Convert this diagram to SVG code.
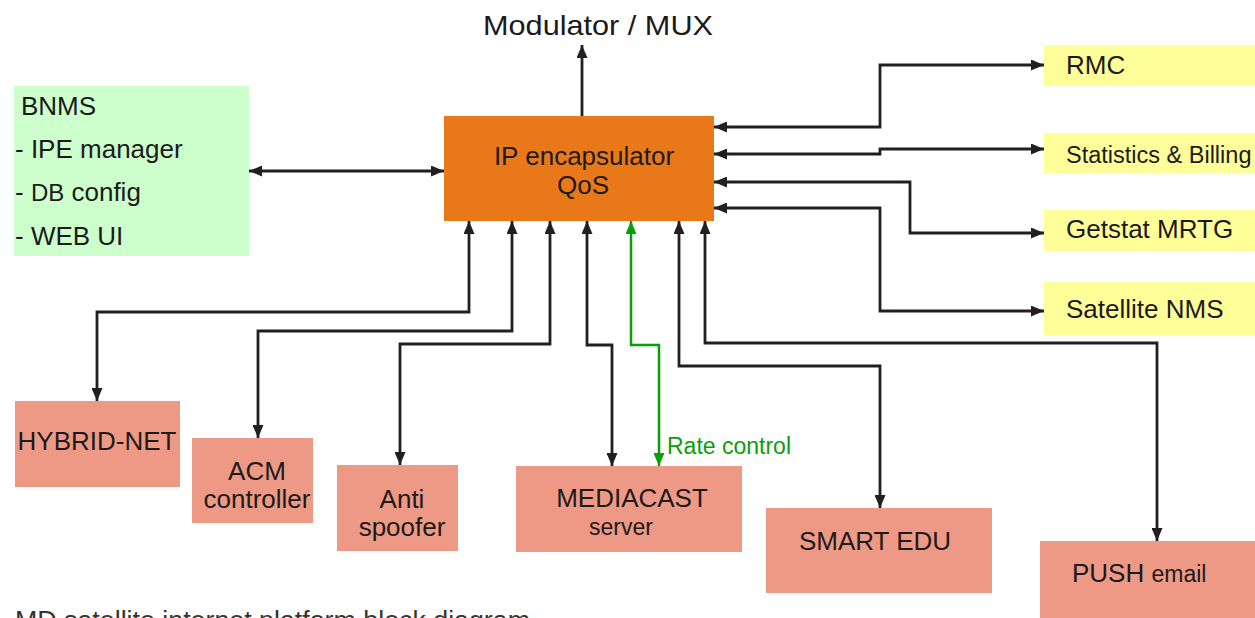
<svg xmlns="http://www.w3.org/2000/svg" width="1255" height="618" viewBox="0 0 1255 618">
<style>
text{font-family:"Liberation Sans",Arial,sans-serif;fill:#1c1a1a}
.t26{font-size:26px}
.mid{text-anchor:middle}
.green{fill:#CCFFCC}
.yellow{fill:#FFFF99}
.salmon{fill:#EE9985}
.orange{fill:#E87818}
.conn{fill:none;stroke:#231f20;stroke-width:2.8;stroke-linejoin:miter}
.rate{fill:none;stroke:#0a9e0a;stroke-width:2.5}
</style>
<defs>
<marker id="ah" viewBox="0 0 13 11" refX="13" refY="5.5" markerWidth="13" markerHeight="11" markerUnits="userSpaceOnUse" orient="auto-start-reverse">
<path d="M0,0 L13,5.5 L0,11 z" fill="#231f20"/>
</marker>
<marker id="ahg" viewBox="0 0 13 11" refX="13" refY="5.5" markerWidth="13" markerHeight="11" markerUnits="userSpaceOnUse" orient="auto-start-reverse">
<path d="M0,0 L13,5.5 L0,11 z" fill="#0a9e0a"/>
</marker>
</defs>
<rect width="1255" height="618" fill="#ffffff"/>

<g id="connectors">
<path class="conn" d="M582,116 V45" marker-end="url(#ah)"/>
<path class="conn" d="M249,171 H444" marker-start="url(#ah)" marker-end="url(#ah)"/>
<path class="conn" d="M714,127 H880 V65 H1044" marker-start="url(#ah)" marker-end="url(#ah)"/>
<path class="conn" d="M714,154 H880 V149 H1044" marker-start="url(#ah)" marker-end="url(#ah)"/>
<path class="conn" d="M714,182 H910 V233 H1044" marker-start="url(#ah)" marker-end="url(#ah)"/>
<path class="conn" d="M714,208 H880 V311 H1044" marker-start="url(#ah)" marker-end="url(#ah)"/>
<path class="conn" d="M469,221 V312 H97 V401" marker-start="url(#ah)" marker-end="url(#ah)"/>
<path class="conn" d="M512,221 V331 H258 V438" marker-start="url(#ah)" marker-end="url(#ah)"/>
<path class="conn" d="M550,221 V344 H400 V465" marker-start="url(#ah)" marker-end="url(#ah)"/>
<path class="conn" d="M587,221 V345 H612 V466" marker-start="url(#ah)" marker-end="url(#ah)"/>
<path class="rate" d="M631,221 V345 H659 V466" marker-start="url(#ahg)" marker-end="url(#ahg)"/>
<path class="conn" d="M679,221 V366 H880 V508" marker-start="url(#ah)" marker-end="url(#ah)"/>
<path class="conn" d="M705,221 V343 H1157 V541" marker-start="url(#ah)" marker-end="url(#ah)"/>
<text x="667" y="454" style="font-size:23px;fill:#0a9e0a">Rate control</text>
</g>

<g id="modulator">
<text class="mid" x="598" y="35" style="font-size:28px" textLength="230" lengthAdjust="spacingAndGlyphs">Modulator / MUX</text>
</g>

<g id="ipe">
<rect class="orange" x="444" y="116" width="270" height="105"/>
<text class="t26 mid" x="584" y="165">IP encapsulator</text>
<text class="t26 mid" x="583" y="194">QoS</text>
</g>

<g id="bnms">
<rect class="green" x="14" y="86" width="235" height="170"/>
<text class="t26" x="21" y="115">BNMS</text>
<text class="t26" x="15" y="158">- IPE manager</text>
<text class="t26" x="15" y="201">- <tspan style="font-size:24px">DB</tspan> config</text>
<text class="t26" x="15" y="245">- WEB UI</text>
</g>

<g id="rmc">
<rect class="yellow" x="1044" y="45" width="211" height="41"/>
<text class="t26" x="1066" y="74">RMC</text>
</g>
<g id="stats">
<rect class="yellow" x="1044" y="133" width="211" height="40"/>
<text x="1066" y="163" style="font-size:23.5px">Statistics &amp; Billing</text>
</g>
<g id="getstat">
<rect class="yellow" x="1044" y="210" width="211" height="41"/>
<text class="t26" x="1066" y="238">Getstat MRTG</text>
</g>
<g id="satnms">
<rect class="yellow" x="1044" y="282" width="211" height="53"/>
<text class="t26" x="1066" y="318">Satellite NMS</text>
</g>

<g id="hybrid">
<rect class="salmon" x="15" y="401" width="165" height="86"/>
<text class="t26 mid" x="97" y="450">HYBRID-NET</text>
</g>
<g id="acm">
<rect class="salmon" x="192" y="438" width="121" height="85"/>
<text class="t26 mid" x="257" y="480">ACM</text>
<text class="t26 mid" x="257" y="508">controller</text>
</g>
<g id="anti">
<rect class="salmon" x="337" y="465" width="121" height="86"/>
<text class="t26 mid" x="402" y="508">Anti</text>
<text class="t26 mid" x="402" y="536">spoofer</text>
</g>
<g id="mediacast">
<rect class="salmon" x="516" y="466" width="226" height="86"/>
<text class="t26 mid" x="632" y="507">MEDIACAST</text>
<text class="mid" x="621" y="535" style="font-size:23px">server</text>
</g>
<g id="smartedu">
<rect class="salmon" x="766" y="508" width="226" height="85"/>
<text class="t26 mid" x="875" y="550">SMART EDU</text>
</g>
<g id="push">
<rect class="salmon" x="1040" y="541" width="215" height="77"/>
<text class="t26" x="1072" y="582">PUSH <tspan style="font-size:23px">email</tspan></text>
</g>

<text x="15" y="629" style="font-size:26px;fill:#333333" textLength="515" lengthAdjust="spacingAndGlyphs">MD satellite internet platform block diagram</text>
</svg>
